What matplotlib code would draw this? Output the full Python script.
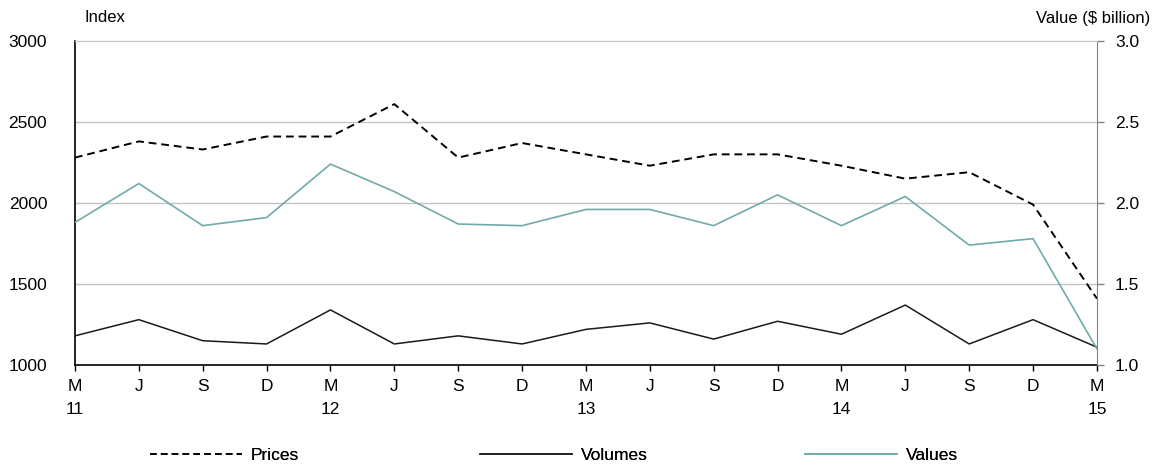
import matplotlib
matplotlib.use("Agg")
import matplotlib.pyplot as plt
from matplotlib.lines import Line2D

plt.rcParams['font.family'] = ['Liberation Sans', 'DejaVu Sans']
plt.rcParams['font.size'] = 12.5

quarters = ["M\n11", "J", "S", "D", "M\n12", "J", "S", "D", "M\n13",
            "J", "S", "D", "M\n14", "J", "S", "D", "M\n15"]
prices = [2280, 2380, 2330, 2410, 2410, 2610, 2280, 2370, 2300,
          2230, 2300, 2300, 2230, 2150, 2190, 1990, 1410]
volumes = [1180, 1280, 1150, 1130, 1340, 1130, 1180, 1130, 1220,
           1260, 1160, 1270, 1190, 1370, 1130, 1280, 1110]
values = [1.88, 2.12, 1.86, 1.91, 2.24, 2.07, 1.87, 1.86, 1.96,
          1.96, 1.86, 2.05, 1.86, 2.04, 1.74, 1.78, 1.10]

teal = "#72aaaa"
grid = "#c4c4c4"

fig = plt.figure(figsize=(11.62, 4.65), dpi=100)
ax = fig.add_axes([0.0645, 0.215, 0.8795, 0.697])
ax2 = ax.twinx()

x = list(range(len(quarters)))
ax.plot(x, prices, color="black", lw=1.4, dashes=(4, 2.5))
ax.plot(x, volumes, color="#1a1a1a", lw=1.1)
ax2.plot(x, values, color=teal, lw=1.2)

ax.set_xlim(0, len(quarters) - 1)
ax.set_ylim(1000, 3000)
ax.set_yticks([1000, 1500, 2000, 2500, 3000])
ax2.set_ylim(1.0, 3.0)
ax2.set_yticks([1.0, 1.5, 2.0, 2.5, 3.0])
ax2.set_yticklabels(["1.0", "1.5", "2.0", "2.5", "3.0"])

for yv in [1500, 2000, 2500]:
    ax.axhline(yv, color=grid, lw=1, zorder=0)

ax.set_xticks(x)
ax.set_xticklabels(quarters, linespacing=1.65)
ax.tick_params(axis="x", direction="out", length=4, width=1, color="black", pad=6)
ax.tick_params(axis="y", length=0, pad=20)
ax2.tick_params(axis="y", direction="out", length=5, width=1, color="#808080", pad=8)

ax.spines["left"].set_color("black")
ax.spines["left"].set_linewidth(1.2)
ax.spines["bottom"].set_color("black")
ax.spines["bottom"].set_linewidth(1.2)
ax.spines["top"].set_color(grid)
ax.spines["right"].set_visible(False)
ax2.spines["left"].set_visible(False)
ax2.spines["bottom"].set_visible(False)
ax2.spines["top"].set_color(grid)
ax2.spines["right"].set_color("#808080")

fig.text(85 / 1162, 1 - 18 / 465, "Index", ha="left", va="center", fontsize=12)
fig.text(1150 / 1162, 1 - 18 / 465, "Value ($ billion)", ha="right", va="center", fontsize=12)

handles = [
    (Line2D([], [], color="black", lw=1.2, dashes=(4, 2.5)), "Prices", 150),
    (Line2D([], [], color="#1a1a1a", lw=1.1), "Volumes", 480),
    (Line2D([], [], color=teal, lw=1.2), "Values", 805),
]
for h, lab, xp in handles:
    lg = fig.legend([h], [lab], loc="center left",
                    bbox_to_anchor=(xp / 1162, 1 - 455 / 465),
                    frameon=False, handlelength=5.3, handletextpad=0.5,
                    borderaxespad=0, borderpad=0, fontsize=12.5)
    fig.add_artist(lg)

fig.savefig("out.png", dpi=100)
